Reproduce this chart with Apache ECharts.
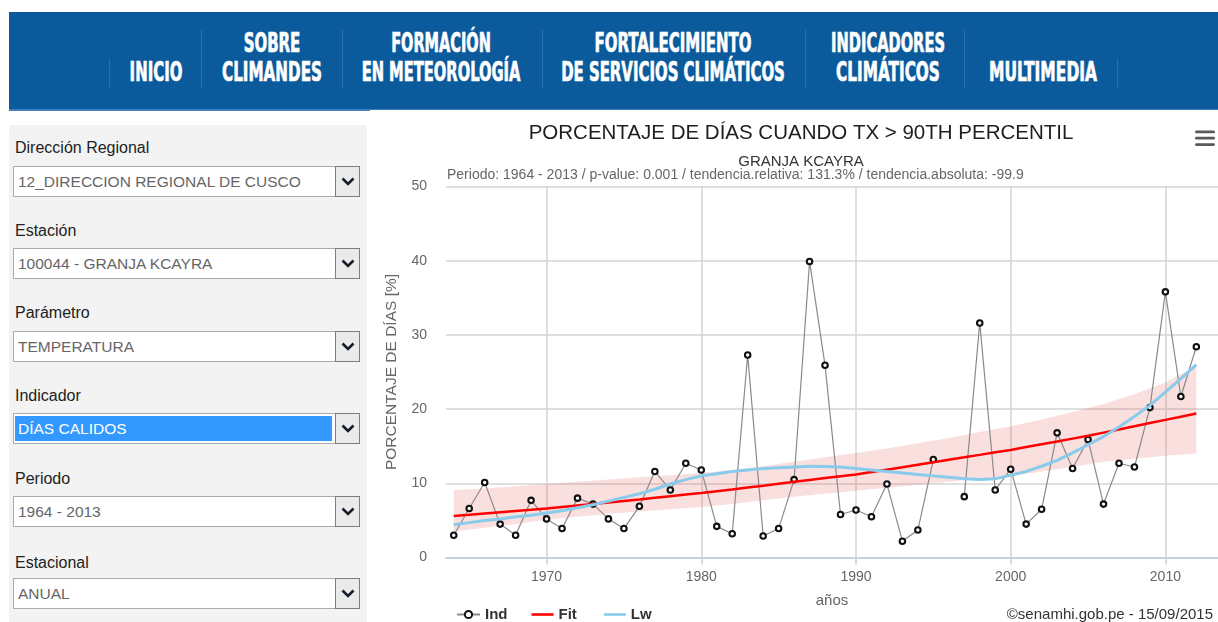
<!DOCTYPE html>
<html>
<head>
<meta charset="utf-8">
<script src="https://cdn.jsdelivr.net/npm/echarts@6/dist/echarts.min.js"></script>
<style>
  html, body { margin:0; padding:0; width:1218px; height:622px; overflow:hidden; background:#fff; font-family:'Liberation Sans', Arial, sans-serif; }
  #nav { position:absolute; left:9px; top:12px; width:1209px; height:97px; background:#0B5A9B; border-bottom:2px solid #3F7FC0; }
  .sep { position:absolute; width:1px; background:#2C6FAE; }
  .nv { position:absolute; white-space:nowrap; color:#fff; font-family:'DejaVu Sans Condensed','DejaVu Sans',sans-serif; font-weight:bold; font-size:26px; line-height:26px; transform-origin:50% 50%; -webkit-text-stroke:0.7px #fff; }
  #panel { position:absolute; left:9px; top:125px; width:358px; height:497px; background:#F3F3F3; }
  .lbl { position:absolute; left:15px; font-size:16px; line-height:16px; color:#222; white-space:nowrap; }
  .sel { position:absolute; left:13px; width:345px; height:29px; border:1px solid #ABABAB; background:#fff; }
  .sel .tx { position:absolute; left:4px; top:0; line-height:29px; font-size:15.5px; color:#666; white-space:nowrap; }
  .sel .hl { position:absolute; left:1px; top:2px; right:27px; bottom:2px; background:#3399FF; }
  .sel .hl .tx { color:#fff; left:3px; top:-2px; }
  .sel .btn { position:absolute; right:-1px; top:-1px; width:23px; height:29px; border:1px solid #7E7E7E; background:#EAEAEA; }
  .sel .btn svg { position:absolute; left:5px; top:10px; }
  #chart { position:absolute; left:370px; top:110px; width:848px; height:512px; }
</style>
</head>
<body>
<div id="nav"></div>
<div id="panel"></div>
<div id="chart"></div>
<script>
// ---------- data ----------
const navTop = ['', 'SOBRE', 'FORMACIÓN', 'FORTALECIMIENTO', 'INDICADORES', ''];
const navBottom = ['INICIO', 'CLIMANDES', 'EN METEOROLOGÍA', 'DE SERVICIOS CLIMÁTICOS', 'CLIMÁTICOS', 'MULTIMEDIA'];
const formLabels = ['Dirección Regional', 'Estación', 'Parámetro', 'Indicador', 'Periodo', 'Estacional'];
const formValues = ['12_DIRECCION REGIONAL DE CUSCO', '100044 - GRANJA KCAYRA', 'TEMPERATURA', 'DÍAS CALIDOS', '1964 - 2013', 'ANUAL'];

const chartTitle = 'PORCENTAJE DE DÍAS CUANDO TX > 90TH PERCENTIL';
const chartSubtitle = 'GRANJA KCAYRA';
const chartInfo = 'Periodo: 1964 - 2013 / p-value: 0.001 / tendencia.relativa: 131.3% / tendencia.absoluta: -99.9';
const yTitle = 'PORCENTAJE DE DÍAS [%]';
const xTitle = 'años';
const credits = '©senamhi.gob.pe - 15/09/2015';

const years = [1964,1965,1966,1967,1968,1969,1970,1971,1972,1973,1974,1975,1976,1977,1978,1979,1980,1981,1982,1983,1984,1985,1986,1987,1988,1989,1990,1991,1992,1993,1994,1995,1996,1997,1998,1999,2000,2001,2002,2003,2004,2005,2006,2007,2008,2009,2010,2011,2012];
const ind = [3.0,6.6,10.1,4.5,3.0,7.7,5.2,3.9,8.0,7.2,5.2,3.9,6.9,11.6,9.1,12.7,11.8,4.2,3.2,27.3,2.9,3.9,10.5,39.9,25.9,5.8,6.4,5.5,9.9,2.2,3.7,13.2,null,8.2,31.6,9.1,11.9,4.5,6.5,16.8,12.0,15.9,7.2,12.7,12.2,20.2,35.8,21.7,28.4];
const fit = [5.6,5.76,5.93,6.1,6.27,6.43,6.6,6.8,7.0,7.2,7.41,7.62,7.83,8.05,8.27,8.48,8.7,8.94,9.18,9.43,9.68,9.94,10.2,10.45,10.7,10.95,11.2,11.52,11.84,12.16,12.5,12.84,13.18,13.5,13.83,14.17,14.5,14.88,15.26,15.64,16.02,16.4,16.83,17.26,17.69,18.12,18.55,18.98,19.4];
const lw = [4.4,4.7,5.0,5.2,5.5,5.7,6.0,6.3,6.7,7.1,7.6,8.1,8.6,9.2,9.9,10.5,11.0,11.3,11.6,11.8,12.0,12.1,12.2,12.3,12.25,12.2,12.0,11.8,11.6,11.4,11.2,11.0,10.8,10.6,10.5,10.6,11.1,11.6,12.3,13.1,14.1,15.2,16.3,17.6,19.0,20.5,22.3,24.1,26.0];
const bandYears = [1964,1966,1968,1970,1972,1974,1976,1978,1980,1982,1984,1986,1988,1990,1992,1994,1996,1998,2000,2002,2004,2006,2008,2010,2012];
const bandLower = [3.5,4.0,4.5,5.1,5.5,5.9,6.2,6.5,6.8,7.2,7.7,8.2,8.6,9.0,9.4,9.8,10.2,10.6,11.0,11.6,12.2,12.9,13.3,13.7,14.0];
const bandUpper = [9.1,9.3,9.6,9.9,10.2,10.5,10.8,11.1,11.4,11.8,12.3,12.9,13.5,14.1,14.7,15.4,16.1,16.9,17.7,18.6,19.6,20.7,22.0,23.6,25.8];

// ---------- page chrome ----------
const nav = document.getElementById('nav');
const navCenters = [146.5, 263, 432, 664, 879, 1034];          // relative to nav box
const navTopW = [0, 57, 100, 157, 114, 0];
const navBotW = [53, 100, 159, 224, 104, 108];
const seps = [[100,46,76],[191.5,18,76],[333,18,76],[532.5,18,76],[796,18,76],[954.5,18,76],[1108,46,76]];
seps.forEach(s => { const d = document.createElement('div'); d.className='sep'; d.style.left=s[0]+'px'; d.style.top=s[1]+'px'; d.style.height=(s[2]-s[1])+'px'; nav.appendChild(d); });
function addNav(text, cx, w, top) {
  if (!text) return;
  const s = document.createElement('span'); s.className='nv'; s.textContent=text;
  s.style.left = cx + 'px'; s.style.top = top + 'px';
  nav.appendChild(s);
  const nat = s.offsetWidth;
  s.style.transform = 'translateX(-50%) scaleX(' + (w / nat) + ')';
}
navTop.forEach((t,i) => addNav(t, navCenters[i], navTopW[i], 18.2));
navBottom.forEach((t,i) => addNav(t, navCenters[i], navBotW[i], 47.2));

const panel = document.getElementById('panel');
const labelTops = [14.7, 98, 180.2, 263, 346.2, 429.7];
const selTops = [40.5, 123, 205.5, 288, 370.5, 453];
formLabels.forEach((t,i) => {
  const l = document.createElement('div'); l.className='lbl'; l.textContent=t; l.style.top=labelTops[i]+'px'; l.style.left='6px'; panel.appendChild(l);
  const s = document.createElement('div'); s.className='sel'; s.style.top=selTops[i]+'px'; s.style.left='4px';
  const tx = '<span class="tx">' + formValues[i] + '</span>';
  s.innerHTML = (i === 3 ? '<div class="hl">' + tx + '</div>' : tx) +
    '<div class="btn"><svg width="14" height="9"><polyline points="1.5,1.5 7,7 12.5,1.5" fill="none" stroke="#141c28" stroke-width="2.6"/></svg></div>';
  panel.appendChild(s);
});

// ---------- chart ----------
const FF = "'Liberation Sans', Arial, sans-serif";
const indData = years.map((y,i) => [y, ind[i]]);
const fitData = years.map((y,i) => [y, fit[i]]);
const lwData = years.map((y,i) => [y, lw[i]]);
const legendText = { fontSize: 15, fontWeight: 'bold', color: '#333', fontFamily: FF };

const chart = echarts.init(document.getElementById('chart'), null, {renderer:'canvas'});
chart.setOption({
  animation: false,
  backgroundColor: '#fff',
  textStyle: { fontFamily: FF },
  title: [
    { text: chartTitle, left: 431, top: 13, padding: 0, textAlign: 'center', textStyle: { fontSize: 20.5, fontWeight: 'normal', color: '#1e1e1e', fontFamily: FF } },
    { text: chartSubtitle, left: 431, top: 44, padding: 0, textAlign: 'center', textStyle: { fontSize: 15, fontWeight: 'normal', color: '#333', fontFamily: FF } },
    { text: chartInfo, left: 77, top: 58.5, padding: 0, textStyle: { fontSize: 14, fontWeight: 'normal', color: '#666', fontFamily: FF } }
  ],
  legend: [
    { data: ['Ind'], left: 86, top: 497, itemWidth: 23, itemHeight: 9, padding: 0, textStyle: legendText },
    { data: ['Fit', 'Lw'], left: 161.5, top: 497, itemWidth: 22, itemHeight: 2.6, itemGap: 27, icon: 'rect', padding: 0, textStyle: legendText }
  ],
  grid: { left: 76, right: 0, top: 76.5, bottom: 64.5, containLabel: false },
  xAxis: {
    type: 'value', min: 1963.5, max: 2013.4,
    name: xTitle, nameLocation: 'middle', nameGap: 36,
    nameTextStyle: { fontSize: 15, color: '#666', fontFamily: FF },
    axisLine: { show: true, lineStyle: { color: '#C6D2DE', width: 2 } },
    axisTick: { show: true, length: 7, lineStyle: { color: '#C6D2DE', width: 1.5 } },
    axisLabel: { showMinLabel: false, showMaxLabel: false, fontSize: 14, color: '#666', margin: 13, fontFamily: FF,
                 formatter: v => String(v) },
    splitLine: { show: true, showMinLine: false, showMaxLine: false, lineStyle: { color: '#D4D4D4', width: 1.5 } }
  },
  yAxis: {
    type: 'value', min: 0, max: 50, interval: 10,
    name: yTitle, nameLocation: 'middle', nameGap: 46,
    nameTextStyle: { fontSize: 15.5, color: '#666', fontFamily: FF },
    axisLine: { show: false }, axisTick: { show: false },
    axisLabel: { fontSize: 14, color: '#666', margin: 19, fontFamily: FF, padding: [3, 0, 0, 0] },
    splitLine: { lineStyle: { color: '#D4D4D4', width: 1.5 } }
  },
  series: [
    { name: 'band', type: 'custom', silent: true, z: 1, data: [[bandYears[0], bandLower[0]]],
      renderItem: (params, api) => {
        const pts = [];
        bandYears.forEach((y, i) => pts.push(api.coord([y, bandUpper[i]])));
        for (let i = bandYears.length - 1; i >= 0; i--) pts.push(api.coord([bandYears[i], bandLower[i]]));
        return { type: 'polygon', shape: { points: pts }, style: { fill: 'rgba(232,96,96,0.2)' } };
      } },
    { name: 'Ind', type: 'line', data: indData, symbol: 'circle', symbolSize: 5.5, showAllSymbol: true,
      itemStyle: { color: '#ffffff', borderColor: '#111', borderWidth: 2.1 },
      lineStyle: { color: '#8a8a8a', width: 1.2 }, z: 3 },
    { name: 'Fit', type: 'line', data: fitData, symbol: 'none', color: '#FF0000',
      itemStyle: { color: '#FF0000' }, lineStyle: { color: '#FF0000', width: 2.5 }, z: 4 },
    { name: 'Lw', type: 'line', data: lwData, symbol: 'none', color: '#88CBEB',
      itemStyle: { color: '#88CBEB' }, lineStyle: { color: '#88CBEB', width: 3 }, z: 5 }
  ],
  graphic: [
    { type: 'rect', left: 825, top: 20.5, shape: { width: 20, height: 2.8, r: 1.4 }, style: { fill: '#5a5a5a' } },
    { type: 'rect', left: 825, top: 26.8, shape: { width: 20, height: 2.8, r: 1.4 }, style: { fill: '#5a5a5a' } },
    { type: 'rect', left: 825, top: 33.2, shape: { width: 20, height: 2.8, r: 1.4 }, style: { fill: '#5a5a5a' } },
    { type: 'text', right: 5, top: 497, style: { text: credits, fontSize: 15, fill: '#333', fontFamily: FF } }
  ]
});
</script>
</body>
</html>
